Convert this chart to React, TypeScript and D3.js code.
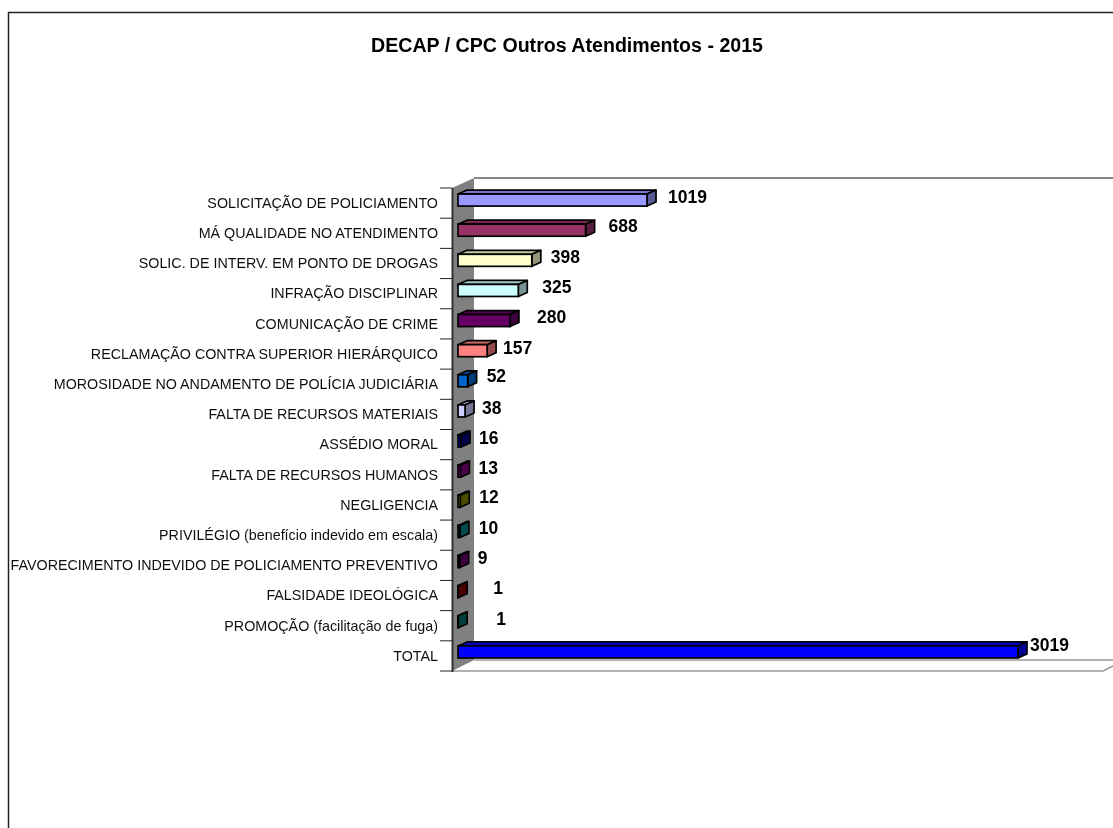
import React from "react";
import * as d3 from "d3";

const categories = [
  "SOLICITAÇÃO DE POLICIAMENTO",
  "MÁ QUALIDADE NO ATENDIMENTO",
  "SOLIC. DE INTERV. EM PONTO DE DROGAS",
  "INFRAÇÃO DISCIPLINAR",
  "COMUNICAÇÃO DE CRIME",
  "RECLAMAÇÃO CONTRA SUPERIOR HIERÁRQUICO",
  "MOROSIDADE NO ANDAMENTO DE POLÍCIA JUDICIÁRIA",
  "FALTA DE RECURSOS MATERIAIS",
  "ASSÉDIO MORAL",
  "FALTA DE RECURSOS HUMANOS",
  "NEGLIGENCIA",
  "PRIVILÉGIO (benefício indevido em escala)",
  "FAVORECIMENTO INDEVIDO DE POLICIAMENTO PREVENTIVO",
  "FALSIDADE IDEOLÓGICA",
  "PROMOÇÃO (facilitação de fuga)",
  "TOTAL",
];
const values = [1019, 688, 398, 325, 280, 157, 52, 38, 16, 13, 12, 10, 9, 1, 1, 3019];
const colors = ["#9999FF", "#993366", "#FFFFCC", "#CCFFFF", "#660066", "#FF8080", "#0066CC", "#CCCCFF", "#000080", "#800080", "#808000", "#008080", "#660066", "#800000", "#006666", "#0000FF"];
// hand-placed data-label offsets of the original chart (from the end of each bar)
const labelDx = [21, 23, 19, 24, 27, 16, 19, 17, 18, 18, 19, 19, 18, 35, 38, 12];
const labelDy = [-6, -7, -6, -7, -7, -6, -8, -6, -7, -7, -8, -7, -7, -8, -7, -11];

const W = 1113, H = 828;
const depthX = 9, depthY = 4;
const x = d3.scaleLinear().domain([0, 3019]).range([458, 1018]);
const y = d3.scaleBand<string>().domain(categories).range([185, 667]).paddingInner(0.6).paddingOuter(0.3);
const axis = d3.scaleBand<string>().domain(categories).range([188, 671]);
const sans = "'Liberation Sans', Arial, sans-serif";
const line = d3.line();
const poly = (p: [number, number][]) => line(p)! + "Z";
const wallL = 452, wallR = 474, wallT = 188, wallB = 671, shiftY = 11;

export default function App() {
  return (
    <svg width={W} height={H} style={{ position: "absolute", left: 0, top: 0, background: "#fff" }} fontFamily={sans}>
      <defs>
        <filter id="soft" x="0" y="0" width="100%" height="100%">
          <feGaussianBlur stdDeviation={0.35} />
        </filter>
      </defs>
      <g filter="url(#soft)">
        <rect width={W} height={H} fill="#fff" />
        <path d={`M8.5,${H}V12.5H${W}`} fill="none" stroke="#222" strokeWidth={1.5} />
        <text x={567} y={52} textAnchor="middle" fontSize={19.6} fontWeight="bold" fill="#000">DECAP / CPC Outros Atendimentos - 2015</text>

        <path d={poly([[wallL, wallT], [wallR, wallT - shiftY + 1], [wallR, wallB - shiftY], [wallL, wallB]])} fill="#808080" />
        <path d={`M${wallR},${wallT - shiftY + 1}H${W}`} stroke="#888" strokeWidth={2} fill="none" />
        <path d={`M${wallR},${wallB - shiftY}H${W}M${wallL},${wallB}H1103L${W},${wallB - 5}`} stroke="#999" strokeWidth={1.6} fill="none" />
        <path d={`M${wallL + 0.5},${wallT}V${wallB + 1}`} stroke="#333" strokeWidth={2} />
        {categories.map((c) => (
          <line key={c} x1={440} x2={wallL} y1={axis(c)!} y2={axis(c)!} stroke="#222" strokeWidth={1} />
        ))}
        <line x1={440} x2={wallL} y1={wallB} y2={wallB} stroke="#222" strokeWidth={1} />

        {categories.map((c, i) => {
          const x0 = x(0), x1 = x(values[i]);
          const t = y(c)!, b = t + y.bandwidth();
          const col = d3.color(colors[i])!;
          const cx = axis(c)! + axis.bandwidth() / 2;
          return (
            <g key={c}>
              <text x={438} y={cx + 4.8} textAnchor="end" fontSize={14.3} fill="#111">{c}</text>
              <path d={poly([[x0, t], [x0 + depthX, t - depthY], [x1 + depthX, t - depthY], [x1, t]])} fill={col.darker(0.65).toString()} stroke="#000" strokeWidth={1.7} strokeLinejoin="round" />
              <path d={poly([[x1, t], [x1 + depthX, t - depthY], [x1 + depthX, b - depthY], [x1, b]])} fill={col.darker(1.5).toString()} stroke="#000" strokeWidth={1.7} strokeLinejoin="round" />
              <rect x={x0} y={t} width={x1 - x0} height={b - t} fill={colors[i]} stroke="#000" strokeWidth={1.7} />
              <text x={x1 + labelDx[i]} y={cx + labelDy[i] + 6} fontSize={17.5} fontWeight="bold" fill="#000">{values[i]}</text>
            </g>
          );
        })}
      </g>
    </svg>
  );
}
